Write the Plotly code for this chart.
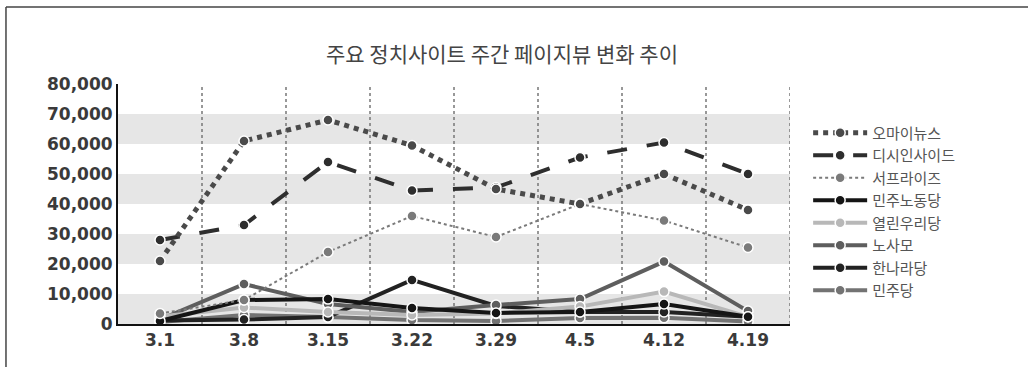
import plotly.graph_objects as go

weeks = ["3.1", "3.8", "3.15", "3.22", "3.29", "4.5", "4.12", "4.19"]

ohmynews = [21000, 61000, 68000, 59500, 45000, 40000, 50000, 38000]
dcinside = [28000, 33000, 54000, 44500, 45500, 55500, 60500, 50000]
surprise = [3500, 8000, 24000, 36000, 29000, 40000, 34500, 25500]
minnodang = [1000, 8000, 8300, 5300, 3700, 4000, 6700, 2400]
uri = [2500, 5500, 4000, 3000, 3500, 5800, 10800, 2400]
nosamo = [1500, 13300, 6700, 4000, 6300, 8300, 20800, 4300]
hannara = [1200, 1500, 2300, 14700, 6000, 4000, 4000, 2400]
minjudang = [700, 3000, 2300, 1300, 1000, 2000, 2100, 800]

yticks = [0, 10000, 20000, 30000, 40000, 50000, 60000, 70000, 80000]

series = [
    ("오마이뉴스", ohmynews, "#4a4a4a", "dot", 5),
    ("디시인사이드", dcinside, "#2e2e2e", "longdash", 4),
    ("서프라이즈", surprise, "#7a7a7a", "dot", 2),
    ("민주노동당", minnodang, "#151515", "solid", 4),
    ("열린우리당", uri, "#b8b8b8", "solid", 4),
    ("노사모", nosamo, "#5e5e5e", "solid", 4),
    ("한나라당", hannara, "#222222", "solid", 4),
    ("민주당", minjudang, "#737373", "solid", 4),
]

fig = go.Figure()
# draw low series first, top series last
for name, vals, col, dash, w in reversed(series):
    fig.add_trace(go.Scatter(
        x=weeks, y=vals, name=name, mode="lines+markers",
        line=dict(color=col, dash=dash, width=w),
        marker=dict(size=10, color=col, line=dict(color="white", width=1.5)),
    ))

shapes = []
# grey bands
for k in range(0, 80000, 20000):
    shapes.append(dict(type="rect", xref="paper", yref="y", x0=0, x1=1,
                       y0=k, y1=k + 10000, fillcolor="#e6e6e6",
                       line=dict(width=0), layer="below"))
# dotted vertical separators
for i in range(len(weeks)):
    shapes.append(dict(type="line", xref="x", yref="y", x0=i + 0.5, x1=i + 0.5,
                       y0=0, y1=80000, line=dict(color="#777", width=1.5, dash="dot"),
                       layer="below"))
# outer frame (top and left)
shapes.append(dict(type="line", xref="paper", yref="paper", x0=-0.1667, x1=1.36,
                   y0=1.3208, y1=1.3208, line=dict(color="#444", width=1.5)))
shapes.append(dict(type="line", xref="paper", yref="paper", x0=-0.1667, x1=-0.1667,
                   y0=1.3208, y1=-0.2, line=dict(color="#444", width=1.5)))

fig.update_layout(
    width=1028, height=367,
    margin=dict(l=118, r=238, t=84, b=43),
    paper_bgcolor="white", plot_bgcolor="white",
    shapes=shapes,
    showlegend=True,
    legend=dict(x=1.027, y=0.865, xanchor="left", yanchor="top",
                traceorder="reversed", itemwidth=54,
                font=dict(family="Noto Sans CJK KR", size=15, color="#555"),
                tracegroupgap=0, bgcolor="rgba(0,0,0,0)"),
    annotations=[dict(text="주요 정치사이트 주간 페이지뷰 변화 추이",
                      xref="paper", yref="paper", x=(502 - 118) / 672, y=(324 - 53) / 240,
                      xanchor="center", yanchor="middle", showarrow=False,
                      font=dict(family="Noto Sans CJK KR", size=21, color="#444"))],
    xaxis=dict(type="category", range=[-0.5, 7.5], showgrid=False,
               showline=True, linecolor="#111", linewidth=2,
               ticks="", tickfont=dict(family="DejaVu Sans", size=17, color="#3a3a3a", weight="bold"),
               fixedrange=True),
    yaxis=dict(range=[0, 80000], tickvals=yticks, tickformat=",d", showgrid=False,
               showline=True, linecolor="#111", linewidth=2, zeroline=False,
               ticks="", tickfont=dict(family="DejaVu Sans", size=17, color="#3a3a3a", weight="bold"),
               fixedrange=True),
)

fig.write_html("out.html")
